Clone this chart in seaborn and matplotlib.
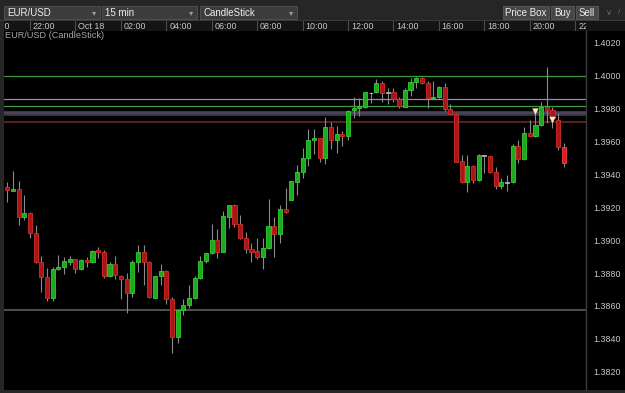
import numpy as np
import pandas as pd
import matplotlib
matplotlib.use("Agg")
import matplotlib.pyplot as plt
from matplotlib.patches import Rectangle
import seaborn as sns

# ---------------- data ----------------
opens = [1.39321, 1.39300, 1.39309, 1.39139, 1.39167, 1.39041, 1.38865, 1.38774, 1.38646, 1.38822,
         1.38838, 1.38869, 1.38883, 1.38824, 1.38879, 1.38865, 1.38940, 1.38926, 1.38782, 1.38855,
         1.38784, 1.38764, 1.38677, 1.38869, 1.38929, 1.38869, 1.38650, 1.38782, 1.38812, 1.38642,
         1.38409, 1.38575, 1.38605, 1.38650, 1.38768, 1.38875, 1.38920, 1.39001, 1.38929, 1.39142,
         1.39213, 1.39098, 1.39015, 1.38944, 1.38932, 1.38899, 1.38950, 1.39086, 1.39037, 1.39187,
         1.39244, 1.39355, 1.39412, 1.39501, 1.39607, 1.39619, 1.39497, 1.39686, 1.39609, 1.39645,
         1.39635, 1.39791, 1.39801, 1.39811, 1.39892, 1.39898, 1.39953, 1.39892, 1.39898, 1.39858,
         1.39811, 1.39912, 1.39963, 1.39984, 1.39953, 1.39862, 1.39872, 1.39933, 1.39797, 1.39765,
         1.39481, 1.39351, 1.39450, 1.39365, 1.39513, 1.39511, 1.39416, 1.39329, 1.39351, 1.39351,
         1.39572, 1.39491, 1.39649, 1.39633, 1.39698, 1.39807, 1.39791, 1.39730, 1.39564]
highs = [1.39355, 1.39420, 1.39359, 1.39274, 1.39171, 1.39092, 1.38905, 1.38832, 1.38838, 1.38909,
         1.38895, 1.38903, 1.38885, 1.38885, 1.38895, 1.38940, 1.38960, 1.38940, 1.38869, 1.38903,
         1.38788, 1.38798, 1.38879, 1.38970, 1.38970, 1.38873, 1.38784, 1.38855, 1.38818, 1.38654,
         1.38581, 1.38642, 1.38727, 1.38782, 1.38903, 1.38922, 1.39098, 1.39066, 1.39179, 1.39215,
         1.39219, 1.39152, 1.39051, 1.38981, 1.39010, 1.39011, 1.39248, 1.39142, 1.39213, 1.39315,
         1.39361, 1.39457, 1.39558, 1.39675, 1.39675, 1.39621, 1.39750, 1.39716, 1.39695, 1.39665,
         1.39791, 1.39872, 1.39866, 1.39900, 1.39898, 1.39979, 1.39967, 1.39926, 1.39923, 1.39872,
         1.39923, 1.39987, 1.39993, 1.39993, 1.39967, 1.39967, 1.39937, 1.39953, 1.39826, 1.39767,
         1.39517, 1.39517, 1.39456, 1.39523, 1.39517, 1.39514, 1.39443, 1.39376, 1.39396, 1.39584,
         1.39609, 1.39689, 1.39730, 1.39791, 1.39841, 1.40054, 1.39811, 1.39771, 1.39588]
lows = [1.39230, 1.39298, 1.39092, 1.39122, 1.39010, 1.38863, 1.38686, 1.38630, 1.38632, 1.38818,
        1.38794, 1.38849, 1.38802, 1.38818, 1.38835, 1.38861, 1.38889, 1.38768, 1.38774, 1.38762,
        1.38642, 1.38559, 1.38652, 1.38808, 1.38727, 1.38648, 1.38648, 1.38727, 1.38610, 1.38316,
        1.38376, 1.38545, 1.38585, 1.38642, 1.38764, 1.38863, 1.38916, 1.38893, 1.38927, 1.39072,
        1.39078, 1.39008, 1.38923, 1.38869, 1.38883, 1.38822, 1.38946, 1.38899, 1.38981, 1.39165,
        1.39241, 1.39274, 1.39379, 1.39452, 1.39522, 1.39473, 1.39461, 1.39554, 1.39528, 1.39574,
        1.39609, 1.39740, 1.39756, 1.39803, 1.39832, 1.39894, 1.39841, 1.39826, 1.39838, 1.39801,
        1.39809, 1.39878, 1.39923, 1.39949, 1.39801, 1.39858, 1.39864, 1.39785, 1.39764, 1.39473,
        1.39347, 1.39294, 1.39345, 1.39359, 1.39406, 1.39410, 1.39309, 1.39309, 1.39300, 1.39347,
        1.39467, 1.39487, 1.39629, 1.39627, 1.39694, 1.39710, 1.39680, 1.39548, 1.39446]
closes = [1.39305, 1.39309, 1.39139, 1.39163, 1.39041, 1.38869, 1.38774, 1.38646, 1.38822, 1.38838,
          1.38873, 1.38883, 1.38824, 1.38879, 1.38870, 1.38936, 1.38926, 1.38784, 1.38855, 1.38788,
          1.38764, 1.38677, 1.38869, 1.38929, 1.38869, 1.38652, 1.38782, 1.38812, 1.38642, 1.38409,
          1.38575, 1.38605, 1.38650, 1.38768, 1.38875, 1.38920, 1.39001, 1.38929, 1.39146, 1.39213,
          1.39098, 1.39010, 1.38944, 1.38926, 1.38899, 1.38950, 1.39086, 1.39037, 1.39187, 1.39173,
          1.39359, 1.39412, 1.39501, 1.39609, 1.39619, 1.39497, 1.39686, 1.39609, 1.39645, 1.39635,
          1.39787, 1.39801, 1.39815, 1.39898, 1.39897, 1.39953, 1.39892, 1.39898, 1.39858, 1.39817,
          1.39912, 1.39963, 1.39984, 1.39953, 1.39862, 1.39872, 1.39933, 1.39797, 1.39765, 1.39477,
          1.39351, 1.39450, 1.39365, 1.39517, 1.39511, 1.39416, 1.39329, 1.39351, 1.39349, 1.39572,
          1.39491, 1.39649, 1.39633, 1.39698, 1.39811, 1.39791, 1.39740, 1.39564, 1.39467]

level_prices = [1.39995, 1.39856, 1.39813, 1.39774, 1.39720, 1.38575]
marker_index = [93, 96]
marker_price = [1.39781, 1.39730]

price_ticks = [1.3820, 1.3840, 1.3860, 1.3880, 1.3900, 1.3920, 1.3940, 1.3960, 1.3980, 1.4000, 1.4020]
time_tick_index = [-4, 4, 12, 20, 28, 36, 44, 52, 60, 68, 76, 84, 92, 100]
time_labels = ["20:00", "22:00", "Oct 18", "02:00", "04:00", "06:00", "08:00", "10:00",
               "12:00", "14:00", "16:00", "18:00", "20:00", "22:00"]

symbol = "EUR/USD"
interval = "15 min"
chart_type = "CandleStick"
buttons = ["Price Box", "Buy", "Sell"]

# ---------------- style ----------------
sns.set_style("dark")
plt.rcParams["font.family"] = ["Liberation Sans", "DejaVu Sans"]

W, H = 625, 393
fig = plt.figure(figsize=(W / 100, H / 100), dpi=100)
fig.patch.set_facecolor("#262626")


def frect(x0, y0, x1, y1):
    return [x0 / W, 1 - y1 / H, (x1 - x0) / W, (y1 - y0) / H]


def add_rect(x0, y0, x1, y1, fc, ec="none", lw=0.0, z=-5):
    r = Rectangle((x0 / W, 1 - y1 / H), (x1 - x0) / W, (y1 - y0) / H,
                  transform=fig.transFigure, facecolor=fc, edgecolor=ec,
                  linewidth=lw, zorder=z)
    fig.add_artist(r)


def fx(x):
    return x / W


def fy(y):
    return 1 - y / H


# backgrounds
add_rect(586, 31, 625, 390, "black")
add_rect(586, 21, 625, 31, "#141414")
add_rect(0, 20, 625, 21, "#3a3a3a")

# toolbar combo boxes
combos = [(4, 99.5, symbol), (101.5, 197, interval), (200, 297, chart_type)]
for x0, x1, txt in combos:
    add_rect(x0, 6, x1, 19, "#3c3c3c", ec="#555555", lw=0.6, z=1)
    fig.text(fx(x0 + 3.5), fy(12.6), txt, color="#eeeeee", fontsize=7, va="center", ha="left")
    fig.text(fx(x1 - 5.5), fy(12.6), "\u25be", color="#9a9a9a", fontsize=6,
             va="center", ha="center", family="DejaVu Sans")
btns = [(503, 549), (551, 574), (576, 598)]
for (x0, x1), txt in zip(btns, buttons):
    add_rect(x0, 6, x1, 19, "#474747", ec="#5a5a5a", lw=0.6, z=1)
    fig.text(fx((x0 + x1) / 2), fy(12.6), txt, color="#eeeeee", fontsize=7, va="center", ha="center")
fig.text(fx(609), fy(12.6), "\u2228", color="#6a6a6a", fontsize=6, va="center", ha="center",
         family="DejaVu Sans")
fig.text(fx(619), fy(12.6), "/", color="#6a6a6a", fontsize=6, va="center", ha="center")

# ---------------- main candle axes ----------------
ax = fig.add_axes(frect(4, 31, 586, 390))
ax.set_facecolor("black")

df = pd.DataFrame({"open": opens, "high": highs, "low": lows, "close": closes})
df["i"] = np.arange(len(df))
diff = df["close"] - df["open"]
fills, edges = [], []
for k, d in enumerate(diff):
    if abs(d) <= 0.00006:
        fills.append("#8e8e8e"); edges.append("#b4b4b4")
    elif d > 0:
        fills.append("#1ea81e"); edges.append("#34d034")
    else:
        if k == len(diff) - 1:
            fills.append("#dd1c1c"); edges.append("#f04040")
        else:
            fills.append("#a81616"); edges.append("#d42c2c")
bottoms = np.minimum(df["open"], df["close"])
heights = np.maximum(np.abs(diff), 0.00005)

# horizontal levels
level_colors = ["#3f9c3f", "#8e8eb8", "#3f9c3f", "#4b4459", "#5e2424", "#4e5c4a"]
level_widths = [0.9, 0.9, 0.9, 2.6, 1.3, 1.3]
for p, c, w in zip(level_prices, level_colors, level_widths):
    ax.axhline(p, color=c, lw=w, zorder=1)
ax.axhline(level_prices[3] - 0.00012, color="#4a2a34", lw=0.7, zorder=1)

ax.vlines(df["i"], df["low"], df["high"], color="#8a8a8a", lw=0.8, zorder=2)
ax.bar(df["i"], heights, bottom=bottoms, width=0.72, color=fills, edgecolor=edges,
       linewidth=0.6, zorder=3)

mk = pd.DataFrame({"i": marker_index, "p": marker_price})
sns.scatterplot(data=mk, x="i", y="p", marker="v", s=22, color="#f2ebc0",
                edgecolor="none", ax=ax, zorder=5, legend=False)

ax.set_xlim(-0.58, 101.9)
ax.set_ylim(1.38089, 1.40271)
ax.set_xlabel("")
ax.set_ylabel("")
ax.set_xticks([])
ax.yaxis.tick_right()
ax.set_yticks(price_ticks)
ax.set_yticklabels([f"{v:.4f}" for v in price_ticks])
ax.tick_params(axis="y", length=0, pad=5, labelsize=6.4, labelcolor="#c8c8c8")
ax.grid(False)
for s in ["left", "top", "bottom"]:
    ax.spines[s].set_visible(False)
ax.spines["right"].set_visible(True)
ax.spines["right"].set_color("#3c3c3c")
ax.spines["right"].set_linewidth(1.0)

fig.text(fx(5), fy(35.8), f"{symbol} ({chart_type})", color="#a8a8a8", fontsize=6.6,
         va="center", ha="left")

# ---------------- time axis row ----------------
ax_t = fig.add_axes(frect(4, 21, 586, 31))
ax_t.set_facecolor("#141414")
ax_t.set_xlim(-0.58, 101.9)
ax_t.set_ylim(0, 1)
for t, lab in zip(time_tick_index, time_labels):
    ax_t.axvline(t, color="#4c4c4c", lw=0.8)
    ax_t.text(t + 0.5, 0.45, lab, color="#c8c8c8", fontsize=6.4, va="center", ha="left",
              clip_on=True)
ax_t.set_xticks([])
ax_t.set_yticks([])
ax_t.grid(False)
for s in ax_t.spines.values():
    s.set_visible(False)

fig.savefig("out.png", dpi=100, facecolor=fig.get_facecolor())
